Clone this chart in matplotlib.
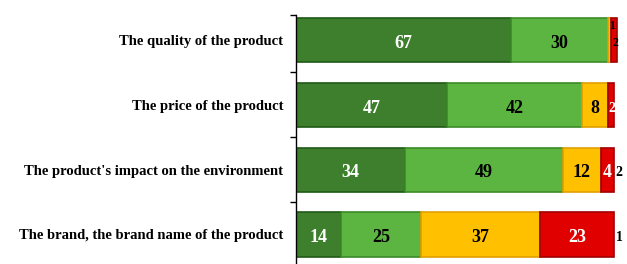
import matplotlib
matplotlib.use("Agg")
import matplotlib.pyplot as plt
import numpy as np

categories = [
    "The quality of the product",
    "The price of the product",
    "The product's impact on the environment",
    "The brand, the brand name of the product",
]
very_important = [67, 47, 34, 14]
rather_important = [30, 42, 49, 25]
rather_not = [1, 8, 12, 37]
not_at_all = [2, 2, 4, 23]
dont_know = [0, 0, 2, 1]

series = [very_important, rather_important, rather_not, not_at_all]
colors = ["#3D7F2D", "#5CB540", "#FFC000", "#E00000"]
edges = ["#1F5A16", "#3C8A28", "#E0A000", "#A00000"]
txtcol = ["white", "black", "black", "white"]

fig = plt.figure(figsize=(6.27, 2.64), dpi=100)
ax = fig.add_axes([0.472, 0.0, 0.515, 1 - 15 / 264])
y = np.arange(len(categories))
left = np.zeros(len(categories))
serif = "Liberation Serif"
for vals, c, ec, tc in zip(series, colors, edges, txtcol):
    vals = np.array(vals, dtype=float)
    ax.barh(y, vals, left=left, height=0.68, color=c, edgecolor=ec, linewidth=1.2)
    for i, v in enumerate(vals):
        if v <= 0:
            continue
        cx = left[i] + v / 2
        if v >= 4:
            ax.text(cx, y[i] + 0.05, f"{int(v)}", ha="center", va="center",
                    color=tc, fontsize=13, fontfamily=serif, fontweight="bold")
        else:
            if i == 0:
                dy = -0.22 if c == "#FFC000" else 0.05
                ax.text(left[i] + 1.5, y[i] + dy, f"{int(v)}", ha="center", va="center",
                        color="black", fontsize=8.5, fontfamily=serif, fontweight="bold")
            else:
                ax.text(cx + 0.3, y[i] + 0.05, f"{int(v)}", ha="center", va="center",
                        color=tc, fontsize=10, fontfamily=serif, fontweight="bold")
    left += vals

for i, v in enumerate(dont_know):
    if v > 0:
        ax.text(left[i] + 1.6, y[i] + 0.05, f"{int(v)}", ha="center", va="center",
                color="black", fontsize=10, fontfamily=serif, fontweight="bold")

ax.set_xlim(0, 100.5)
ax.set_ylim(3 + 29.5 / 64.8, -25 / 64.8)
ax.set_yticks(y)
ax.set_yticklabels(categories, fontfamily=serif, fontsize=10.5, fontweight="bold")
ax.tick_params(axis="y", length=0, pad=9)
ax.set_yticks([0.5, 1.5, 2.5, -25 / 64.8], minor=True)
ax.tick_params(axis="y", which="minor", length=4, width=1, color="black")
ax.set_xticks([])
for s in ["top", "right", "bottom"]:
    ax.spines[s].set_visible(False)
ax.spines["left"].set_linewidth(1)

fig.savefig("out.png", dpi=100)
